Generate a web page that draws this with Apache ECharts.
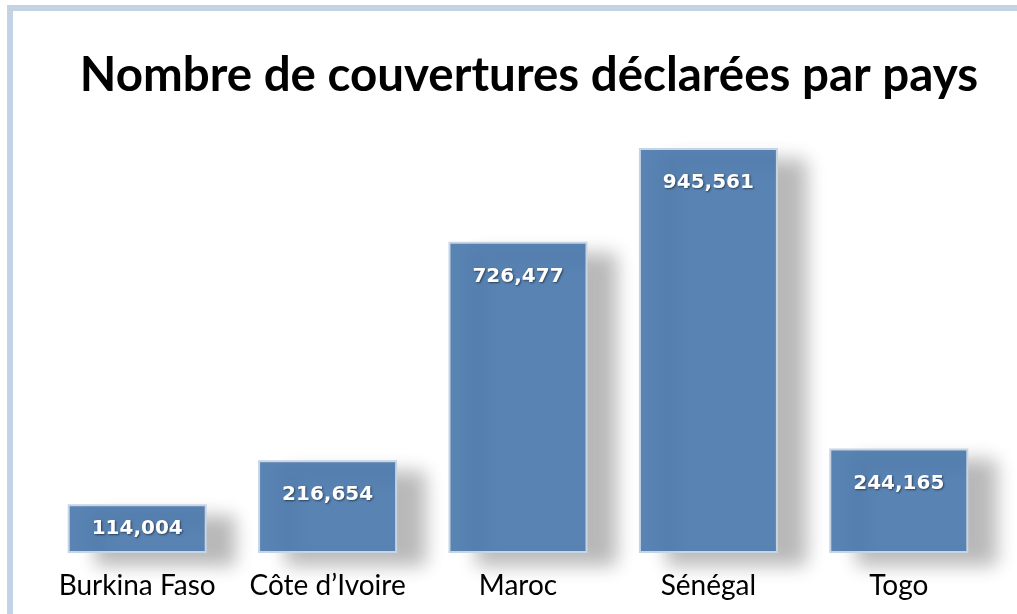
<!DOCTYPE html>
<html>
<head>
<meta charset="utf-8">
<script src="https://cdn.jsdelivr.net/npm/echarts@6/dist/echarts.min.js"></script>
<style>
html, body { margin: 0; padding: 0; background: #fff; }
#main { width: 1017px; height: 614px; }
</style>
</head>
<body>
<div id="main"></div>
<script>
var countries = ['Burkina Faso', 'Côte d’Ivoire', 'Maroc', 'Sénégal', 'Togo'];
var couvertures = [114004, 216654, 726477, 945561, 244165];

var chart = echarts.init(document.getElementById('main'));

// la barre la plus courte a son étiquette centrée
var barData = couvertures.map(function (v, i) {
    return i === 0 ? { value: v, label: { position: 'inside' } } : v;
});

var option = {
    backgroundColor: '#ffffff',
    animation: false,
    title: {
        text: 'Nombre de couvertures déclarées par pays',
        left: 524,
        textAlign: 'center',
        top: 47,
        textStyle: {
            fontFamily: 'Lato',
            fontWeight: 'bold',
            fontSize: 47.5,
            color: '#000'
        }
    },
    graphic: [{
        type: 'rect',
        shape: { x: 10, y: 8, width: 1200, height: 1000 },
        style: { fill: 'none', stroke: '#C3D3E3', lineWidth: 6 },
        z: 100
    }],
    grid: {
        left: 42,
        right: 23,
        top: 148,
        bottom: 61
    },
    xAxis: {
        type: 'category',
        data: countries,
        axisLine: { show: false },
        axisTick: { show: false },
        axisLabel: {
            interval: 0,
            hideOverlap: false,
            margin: 19,
            fontFamily: 'Lato',
            fontSize: 28,
            color: '#000'
        }
    },
    yAxis: {
        type: 'value',
        min: 0,
        max: 945561,
        show: false
    },
    series: [{
        type: 'bar',
        data: barData,
        barWidth: 139,
        itemStyle: {
            color: '#5883B3',
            borderColor: '#C6D4E4',
            borderWidth: 2,
            shadowColor: 'rgba(0,0,0,0.28)',
            shadowBlur: 18,
            shadowOffsetX: 28,
            shadowOffsetY: 12
        },
        label: {
            show: true,
            position: 'insideTop',
            distance: 25,
            formatter: function (p) {
                return p.value.toLocaleString('en-US');
            },
            fontFamily: 'DejaVu Sans',
            fontWeight: 'bold',
            fontSize: 20,
            color: '#ffffff',
            textShadowColor: 'rgba(0,0,0,0.5)',
            textShadowBlur: 2,
            textShadowOffsetX: 1,
            textShadowOffsetY: 1
        }
    }]
};

chart.setOption(option);
</script>
</body>
</html>
